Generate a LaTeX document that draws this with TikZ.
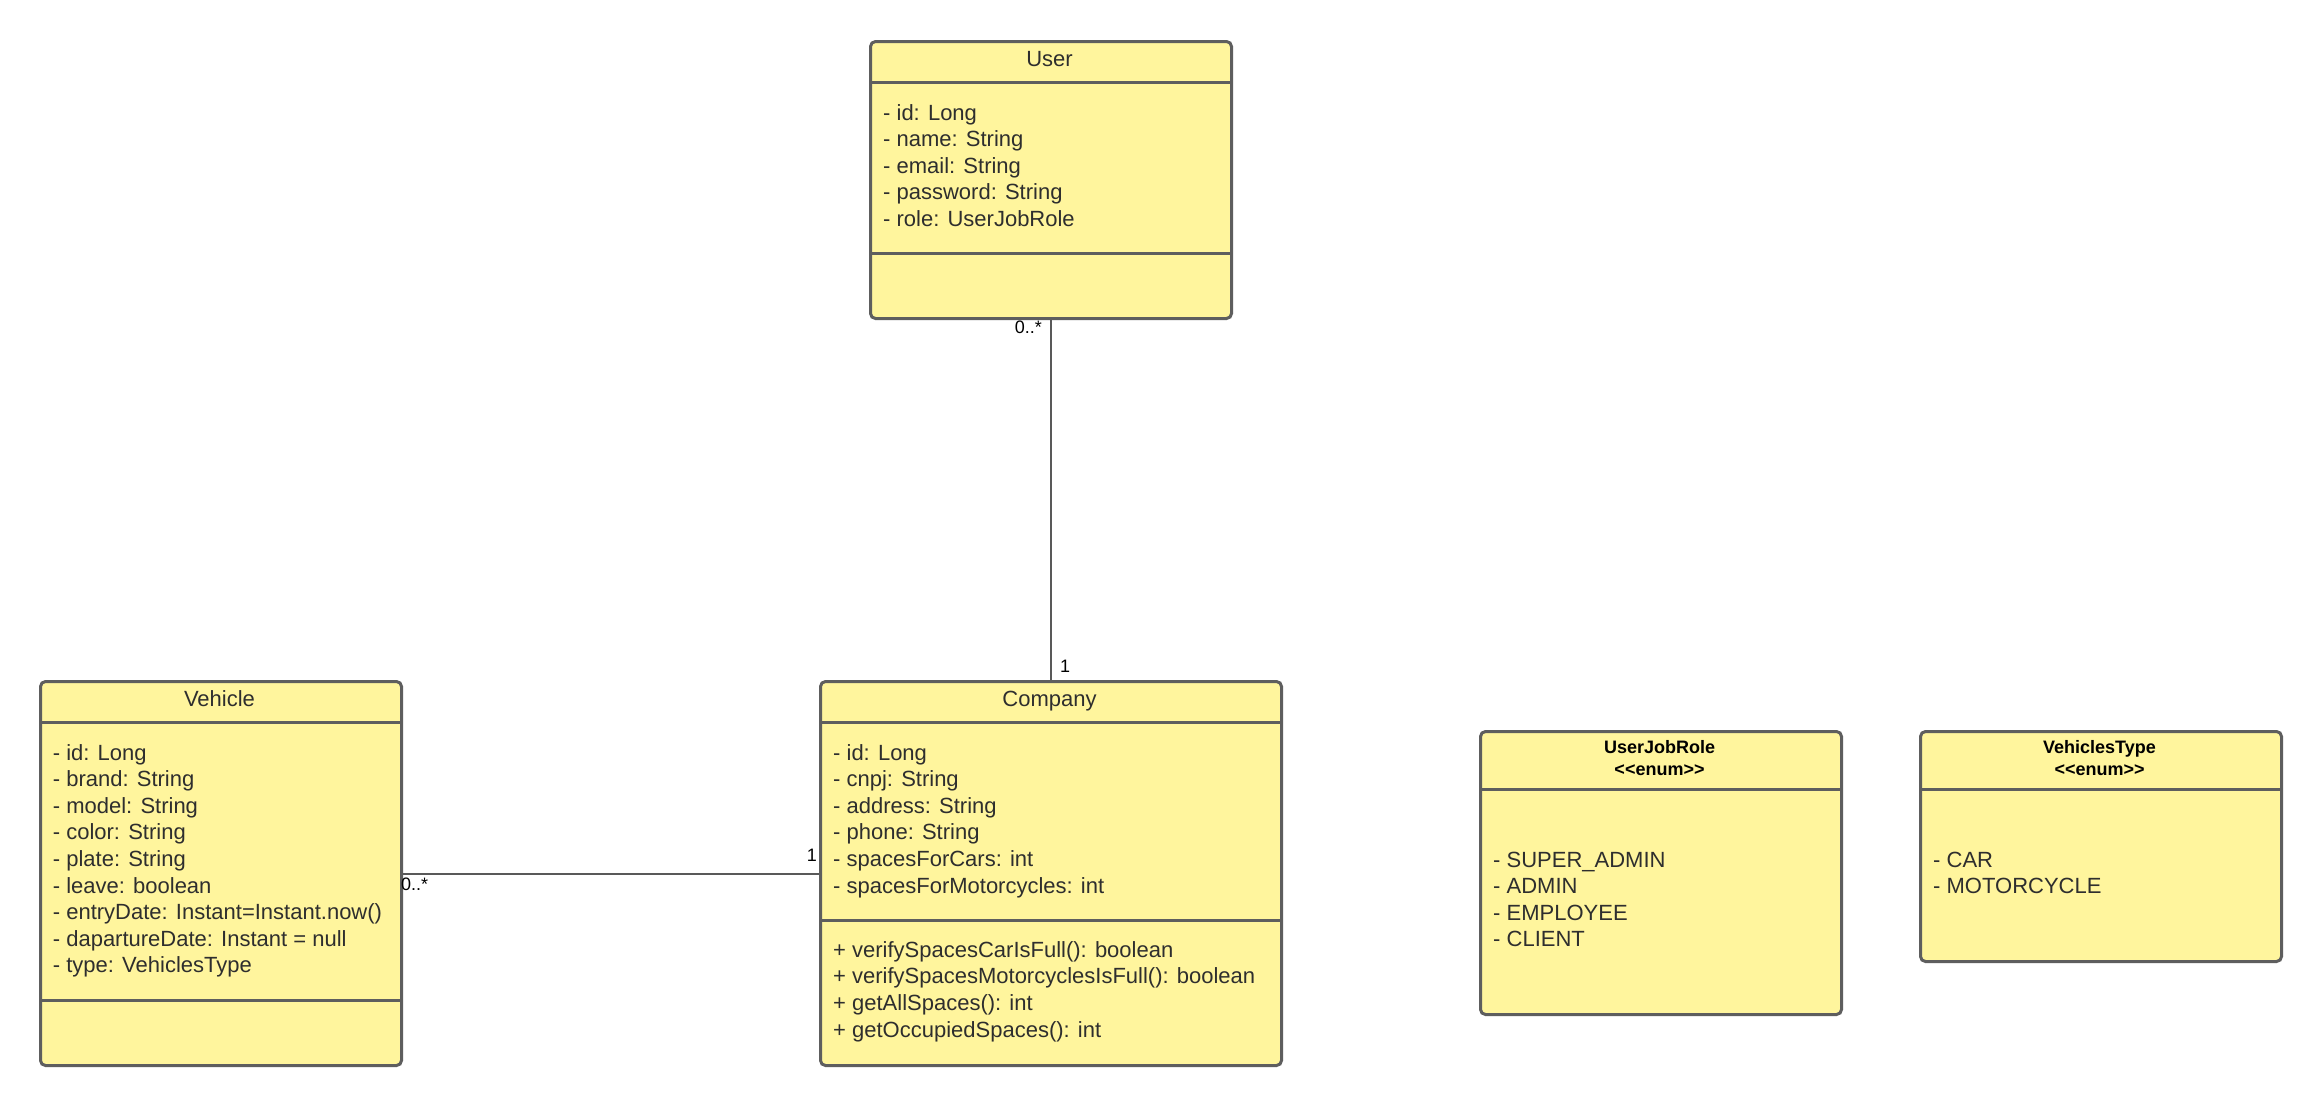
\documentclass[tikz,border=0pt]{standalone}
\usepackage{fontspec}
\setmainfont{Liberation Sans}

\definecolor{boxfill}{HTML}{FFF59D}
\definecolor{boxline}{HTML}{5E5E5E}
\definecolor{txt}{HTML}{2E2E2E}
\definecolor{wire}{HTML}{595959}

\tikzset{
  classbox/.style={draw=boxline, fill=boxfill, line width=3pt, rounded corners=5pt,
                   anchor=north west, inner sep=0pt},
  divider/.style={draw=boxline, line width=3pt},
  member/.style={anchor=base west, inner sep=0pt, text=txt, font=\fontsize{22}{26}\selectfont},
  ctitle/.style={anchor=base, inner sep=0pt, text=txt, font=\fontsize{22}{26}\selectfont},
  etitle/.style={anchor=base, inner sep=0pt, text=black, font=\bfseries\fontsize{18}{22}\selectfont},
  mult/.style={inner sep=0pt, text=black, font=\fontsize{18}{22}\selectfont},
  assoc/.style={draw=wire, line width=2pt},
}

\begin{document}
\begin{tikzpicture}[x=1pt,y=-1pt]
\useasboundingbox[fill=white] (0,0) rectangle (2320,1104);

% ---------- User ----------
\node[classbox, minimum width=361pt, minimum height=277pt] (user) at (869,40) {};
\draw[divider] (user.west |- 0,82) -- (user.east |- 0,82);
\draw[divider] (user.west |- 0,253) -- (user.east |- 0,253);
\node[ctitle] (user-title) at (1049.5,66) {User};
\foreach \t [count=\i from 0] in {{- id: Long},{- name: String},{- email: String},
    {- password: String},{- role: UserJobRole}}
  \node[member] (user-a\i) at (883,{120+26.6*\i}) {\t};

% ---------- Vehicle ----------
\node[classbox, minimum width=361pt, minimum height=384pt] (vehicle) at (39,680) {};
\draw[divider] (vehicle.west |- 0,722) -- (vehicle.east |- 0,722);
\draw[divider] (vehicle.west |- 0,1000) -- (vehicle.east |- 0,1000);
\node[ctitle] (vehicle-title) at (219.5,706) {Vehicle};
\foreach \t [count=\i from 0] in {{- id: Long},{- brand: String},{- model: String},
    {- color: String},{- plate: String},{- leave: boolean},
    {- entryDate: Instant=Instant.now()},{- dapartureDate: Instant = null},
    {- type: VehiclesType}}
  \node[member] (vehicle-a\i) at (52.7,{760+26.6*\i}) {\t};

% ---------- Company ----------
\node[classbox, minimum width=461pt, minimum height=384pt] (company) at (819,680) {};
\draw[divider] (company.west |- 0,722) -- (company.east |- 0,722);
\draw[divider] (company.west |- 0,920) -- (company.east |- 0,920);
\node[ctitle] (company-title) at (1049.5,706) {Company};
\foreach \t [count=\i from 0] in {{- id: Long},{- cnpj: String},{- address: String},
    {- phone: String},{- spacesForCars: int},{- spacesForMotorcycles: int}}
  \node[member] (company-a\i) at (833,{760+26.6*\i}) {\t};
\foreach \t [count=\i from 0] in {{+ verifySpacesCarIsFull(): boolean},
    {+ verifySpacesMotorcyclesIsFull(): boolean},{+ getAllSpaces(): int},
    {+ getOccupiedSpaces(): int}}
  \node[member] (company-m\i) at (833,{957+26.7*\i}) {\t};

% ---------- UserJobRole enum ----------
\node[classbox, minimum width=361pt, minimum height=283pt] (jobrole) at (1479,730) {};
\draw[divider] (jobrole.west |- 0,789) -- (jobrole.east |- 0,789);
\node[etitle] (jobrole-name) at (1659.5,753.5) {UserJobRole};
\node[etitle] (jobrole-st) at (1659.5,775.5) {<\kern0pt<enum>\kern0pt>};
\foreach \t [count=\i from 0] in {{- SUPER\_ADMIN},{- ADMIN},{- EMPLOYEE},{- CLIENT}}
  \node[member] (jobrole-v\i) at (1493,{867+26.6*\i}) {\t};

% ---------- VehiclesType enum ----------
\node[classbox, minimum width=361pt, minimum height=230pt] (vtype) at (1919,730) {};
\draw[divider] (vtype.west |- 0,789) -- (vtype.east |- 0,789);
\node[etitle] (vtype-name) at (2099.5,753.5) {VehiclesType};
\node[etitle] (vtype-st) at (2099.5,775.5) {<\kern0pt<enum>\kern0pt>};
\foreach \t [count=\i from 0] in {{- CAR},{- MOTORCYCLE}}
  \node[member] (vtype-v\i) at (1933,{867+26.6*\i}) {\t};

% ---------- associations ----------
\draw[assoc] (user.south) -- (company.north);
\draw[assoc] (vehicle.east) -- (company.west);

\node[mult, anchor=base east] (m-user) at (1042,333.5) {0..*};
\node[mult, anchor=base west] (m-company-top) at (1060,672.5) {1};
\node[mult, anchor=base west] (m-vehicle) at (401,890.5) {0..*};
\node[mult, anchor=base east] (m-company-left) at (817,861.5) {1};
\end{tikzpicture}
\end{document}
